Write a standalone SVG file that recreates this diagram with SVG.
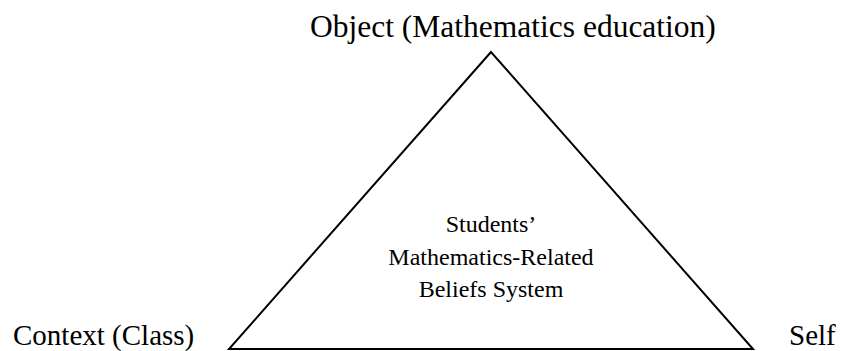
<svg xmlns="http://www.w3.org/2000/svg" width="845" height="351" viewBox="0 0 845 351">
<style>
text{font-family:"Liberation Serif","Times New Roman",serif;fill:#000}
.lbl{font-size:29px}
.in{font-size:24px;text-anchor:middle}
.tri{fill:none;stroke:#000;stroke-width:2}
</style>
<rect width="845" height="351" fill="#fff"/>
<g id="connectors">
<polygon class="tri" points="491,52 229,349 753,349"/>
</g>
<g id="object"><text class="lbl" x="310" y="37" style="font-size:31.5px">Object (Mathematics education)</text></g>
<g id="context"><text class="lbl" x="13" y="345">Context (Class)</text></g>
<g id="self"><text class="lbl" x="789" y="345">Self</text></g>
<g id="beliefs">
<text class="in" x="491" y="232">Students’</text>
<text class="in" x="491" y="265">Mathematics-Related</text>
<text class="in" x="491" y="297">Beliefs System</text>
</g>
</svg>
